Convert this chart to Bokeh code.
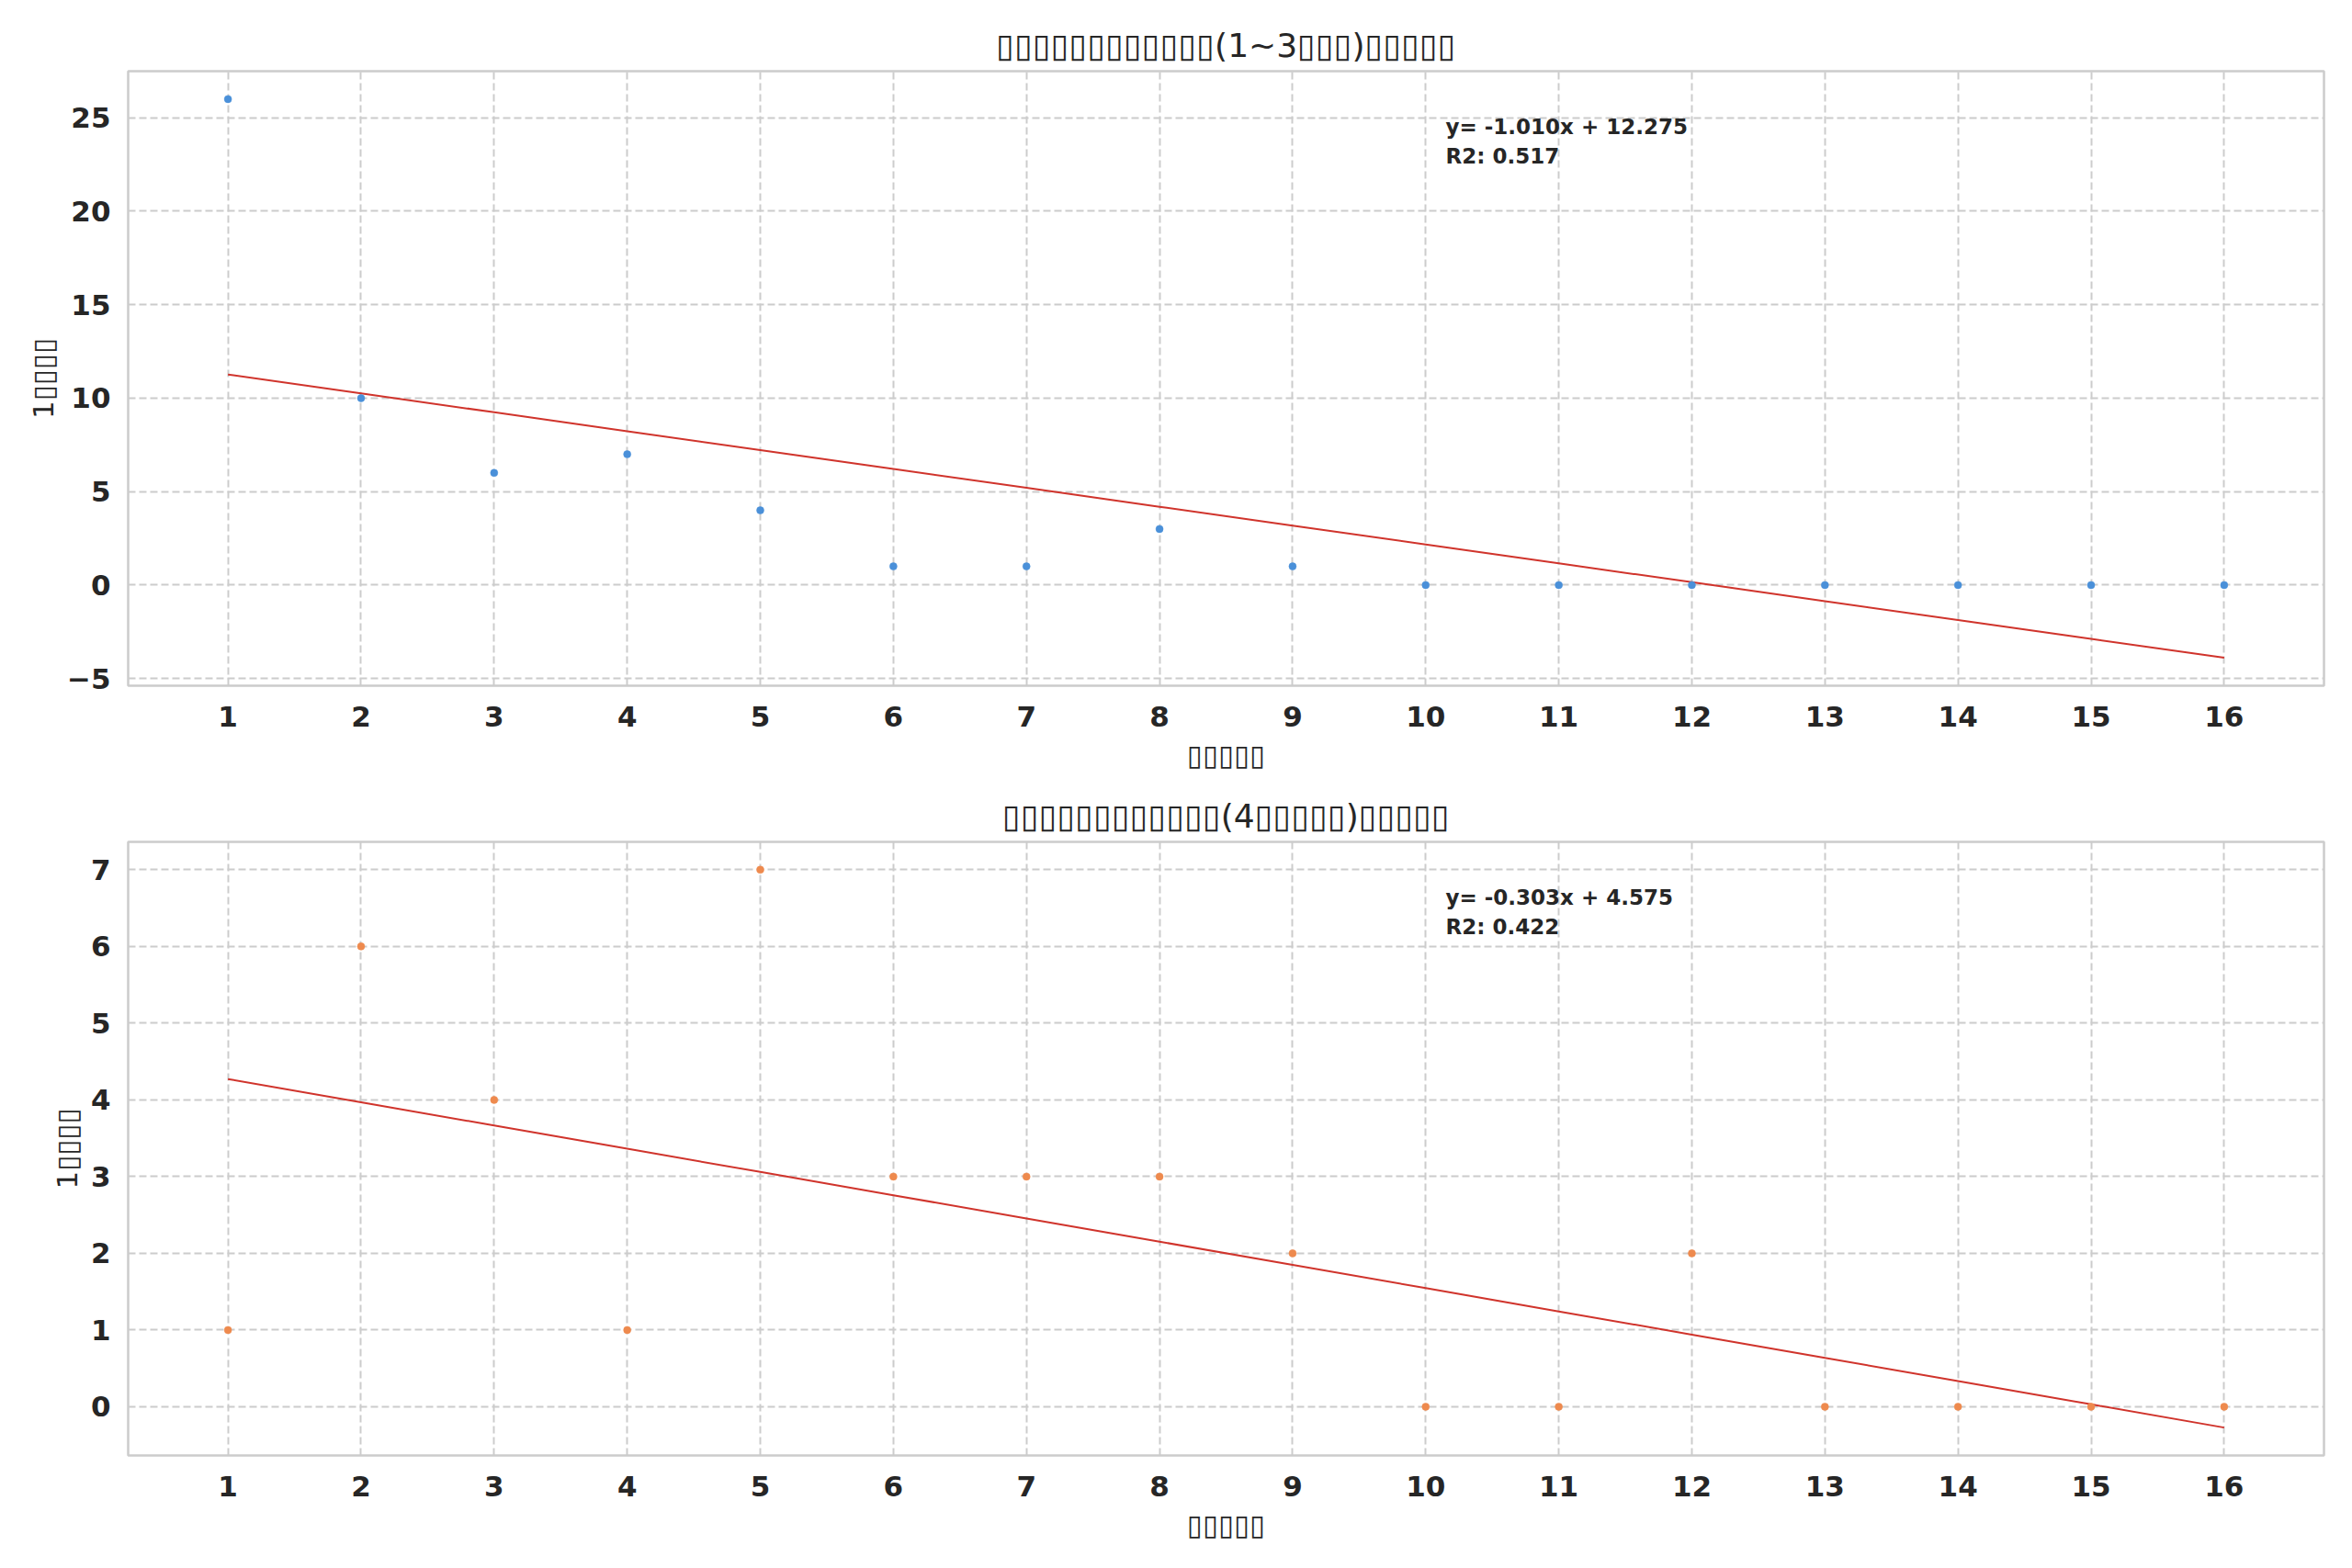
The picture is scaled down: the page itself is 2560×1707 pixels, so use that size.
import numpy as np
from bokeh.plotting import figure
from bokeh.layouts import column
from bokeh.models import Range1d, FixedTicker, Label
from bokeh.embed import file_html
from bokeh.resources import INLINE

# ---- data ----
rank = list(range(1, 17))
wins_top3 = [26, 10, 6, 7, 4, 1, 1, 3, 1, 0, 0, 0, 0, 0, 0, 0]
wins_4plus = [1, 6, 4, 1, 7, 3, 3, 3, 2, 0, 0, 2, 0, 0, 0, 0]
# the reference's CJK glyphs were rendered as missing-glyph boxes
B = "\u25af"
title_top = B * 12 + "(1~3" + B * 3 + ")" + B * 5
title_bottom = B * 12 + "(4" + B * 5 + ")" + B * 5
x_label = B * 5
y_label = "1" + B * 4
xticks = list(range(1, 17))
yticks_top = [-5, 0, 5, 10, 15, 20, 25]
yticks_bottom = [0, 1, 2, 3, 4, 5, 6, 7]

FONT = "DejaVu Sans"
TXT = "#262626"
GRID = "#cccccc"


def make(y, color, title, yticks, top_border, bottom_border, height):
    x = np.array(rank, dtype=float)
    yv = np.array(y, dtype=float)
    slope, intercept = np.polyfit(x, yv, 1)
    fit = slope * x + intercept
    r2 = 1 - np.sum((yv - fit) ** 2) / np.sum((yv - yv.mean()) ** 2)

    lo = min(yv.min(), fit.min())
    hi = max(yv.max(), fit.max())
    pad = 0.05 * (hi - lo)
    y0, y1 = lo - pad, hi + pad
    x0, x1 = 0.25, 16.75

    p = figure(width=2552, height=height, output_backend="svg", toolbar_location=None,
               x_range=Range1d(x0, x1), y_range=Range1d(y0, y1),
               min_border_left=139, min_border_right=23,
               min_border_top=top_border, min_border_bottom=bottom_border)
    p.title.text = title
    p.title.align = "center"
    p.title.text_font = FONT
    p.title.text_font_size = "36px"
    p.title.text_font_style = "normal"
    p.title.text_color = TXT
    p.title.standoff = 15

    p.outline_line_color = GRID
    p.outline_line_width = 2.5
    p.background_fill_color = "white"
    p.border_fill_color = "white"

    for ax in (p.xaxis, p.yaxis):
        ax.axis_line_color = None
        ax.major_tick_line_color = None
        ax.minor_tick_line_color = None
        ax.major_label_text_font = FONT
        ax.major_label_text_font_size = "31px"
        ax.major_label_text_font_style = "bold"
        ax.major_label_text_color = TXT
        ax.axis_label_text_font = FONT
        ax.axis_label_text_font_size = "31px"
        ax.axis_label_text_font_style = "normal"
        ax.axis_label_text_color = TXT
    p.xaxis.ticker = FixedTicker(ticks=xticks)
    p.yaxis.ticker = FixedTicker(ticks=yticks)
    p.yaxis.major_label_overrides = {t: ("\u2212" + str(-t)) for t in yticks if t < 0}
    p.xaxis.major_label_standoff = 16
    p.yaxis.major_label_standoff = 13
    p.xaxis.axis_label = x_label
    p.yaxis.axis_label = y_label
    p.xaxis.axis_label_standoff = 10
    p.yaxis.axis_label_standoff = 5

    for g in (p.xgrid, p.ygrid):
        g.grid_line_color = GRID
        g.grid_line_width = 2
        g.grid_line_dash = "8 4"

    p.line(x, fit, line_color="#d0342c", line_width=2)
    p.scatter(x, yv, size=8, fill_color=color, line_color=color, line_width=0.5)

    lx = x0 + 0.6 * (x1 - x0)
    p.add_layout(Label(x=lx, y=y0 + 0.910 * (y1 - y0),
                       text="y= %.3fx + %.3f" % (slope, intercept),
                       text_font=FONT, text_font_size="23px", text_font_style="bold",
                       text_color=TXT, text_baseline="middle", text_align="left"))
    p.add_layout(Label(x=lx, y=y0 + 0.861 * (y1 - y0),
                       text="R2: %.3f" % r2,
                       text_font=FONT, text_font_size="23px", text_font_style="bold",
                       text_color=TXT, text_baseline="middle", text_align="left"))
    return p


p1 = make(wins_top3, "#4a90d9", title_top, yticks_top, 77, 106, 852)
p2 = make(wins_4plus, "#ee8a4e", title_bottom, yticks_bottom, 64, 120, 852)

layout = column(p1, p2)
open("out.html", "w").write(file_html(layout, INLINE))
